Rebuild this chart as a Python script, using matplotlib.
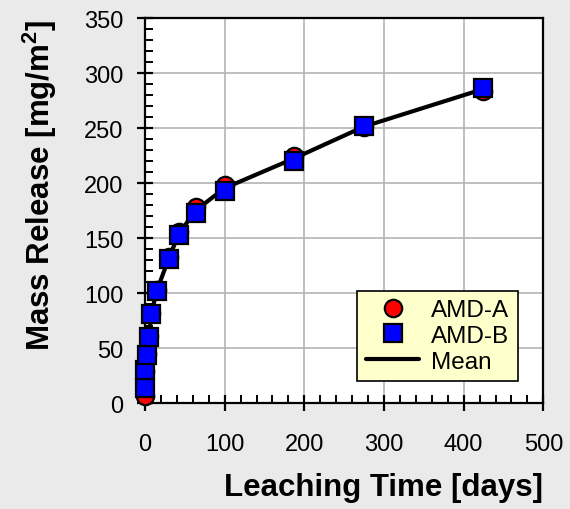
import matplotlib
matplotlib.use("Agg")
import matplotlib.pyplot as plt
from matplotlib.ticker import MultipleLocator
import numpy as np

# Leaching time [days] and cumulative mass release [mg/m2]
leaching_time = [0.08, 0.3, 2.25, 5, 8, 15, 30, 43, 64, 100, 187, 275, 424]
amd_a = [6, 29, 45, 61, 82, 103, 133, 156, 178, 198, 225, 251, 284]
amd_b = [14, 30, 44, 60, 81, 102, 131, 153, 173, 193, 220, 252, 287]
mean_release = list((np.array(amd_a) + np.array(amd_b)) / 2)

x_ticks = [0, 100, 200, 300, 400, 500]
y_ticks = [0, 50, 100, 150, 200, 250, 300, 350]

plt.rcParams["font.family"] = ["Liberation Sans", "DejaVu Sans"]
plt.rcParams["mathtext.fontset"] = "custom"
plt.rcParams["mathtext.bf"] = "Liberation Sans:bold"
plt.rcParams["mathtext.rm"] = "Liberation Sans"

fig = plt.figure(figsize=(5.7, 5.1), dpi=100, facecolor="#eaeaea")
ax = fig.add_axes([0.2544, 0.2078, 0.6988, 0.7544])
ax.set_facecolor("white")

ax.plot(leaching_time, mean_release, color="black", lw=3, zorder=3,
        label="Mean", solid_capstyle="round")
ax.plot(leaching_time, amd_a, ls="none", marker="o", ms=12.5, mfc="#ff0000",
        mec="black", mew=1.6, zorder=4, label="AMD-A", clip_on=False)
ax.plot(leaching_time, amd_b, ls="none", marker="s", ms=12.5, mfc="#0000ff",
        mec="black", mew=1.6, zorder=5, label="AMD-B", clip_on=False)

ax.set_xlim(0, 500)
ax.set_ylim(0, 350)
ax.set_xticks(x_ticks)
ax.set_yticks(y_ticks)
ax.xaxis.set_minor_locator(MultipleLocator(20))
ax.yaxis.set_minor_locator(MultipleLocator(10))
ax.grid(True, which="major", color="#b4b4b4", lw=1.2, zorder=0)
ax.set_axisbelow(True)

for s in ax.spines.values():
    s.set_linewidth(1.6)
    s.set_color("black")

ax.tick_params(which="major", direction="inout", length=11, width=1.6,
               labelsize=17, color="black")
ax.tick_params(axis="x", which="major", pad=16)
ax.tick_params(axis="y", which="major", pad=10)
ax.tick_params(which="minor", direction="in", length=5.5, width=1.4)
ax.tick_params(top=False, right=False, which="both")

ax.set_xlabel("Leaching Time [days]", fontsize=22.5, fontweight="bold",
              loc="right", labelpad=12)
ax.set_ylabel(r"Mass Release [mg/m$^{\mathbf{2}}$]", fontsize=22.5,
              fontweight="bold", loc="top", labelpad=18)

handles, labels = ax.get_legend_handles_labels()
order = [1, 2, 0]
leg = ax.legend([handles[i] for i in order], [labels[i] for i in order],
                loc="lower right", bbox_to_anchor=(0.9365, 0.057),
                borderaxespad=0, fontsize=17.5, frameon=True, fancybox=False,
                facecolor="#ffffcc", edgecolor="black", framealpha=1,
                handlelength=2.2, handletextpad=0.5, labelspacing=0.15,
                borderpad=0.35)
leg.get_frame().set_linewidth(1.2)
leg.set_zorder(10)

fig.savefig("out.png", dpi=100, facecolor=fig.get_facecolor())
